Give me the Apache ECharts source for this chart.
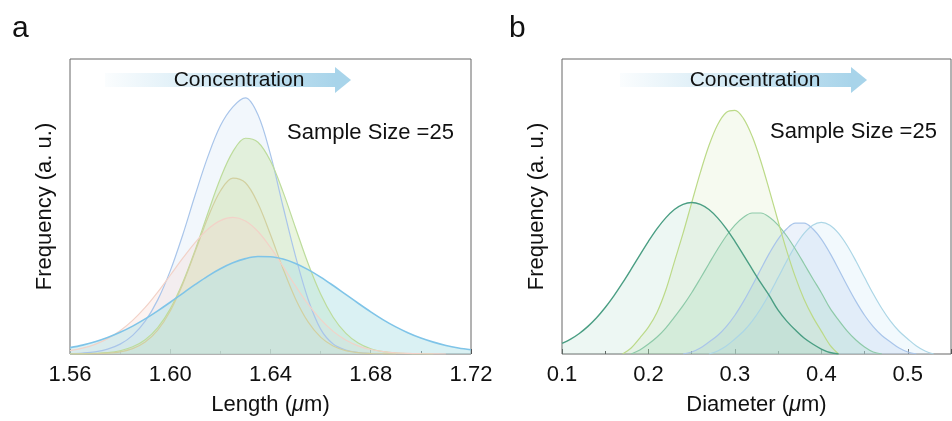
<!DOCTYPE html>
<html>
<head>
<meta charset="utf-8">
<script src="https://cdn.jsdelivr.net/npm/echarts@6/dist/echarts.min.js"></script>
<style>html,body{margin:0;padding:0;background:#fff;}#c{width:952px;height:421px;}</style>
</head>
<body>
<div id="c"></div>
<script>
// ---- Panel a: Length distributions ----
const lengthX = [1.560,1.565,1.570,1.575,1.580,1.585,1.590,1.595,1.600,1.605,1.610,1.615,1.620,1.625,1.630,1.635,1.640,1.645,1.650,1.655,1.660,1.665,1.670,1.675,1.680,1.685,1.690,1.695,1.700,1.705,1.710,1.715,1.720];
const lenBlue   = [0.4,1.0,2.2,4.9,9.9,18.7,33,54.3,83.4,119.7,160,198,229,248,257,240,200,148,98,55,25,10,4,1.5,0.5,0,null,null,null,null,null,null,null];
const lenGreen  = [0.1,0.2,0.6,1.4,3.3,7.2,14.3,26.5,45.3,71.7,104.7,141.3,176.1,203,216.5,212.5,193.6,162.7,126.5,90.8,60.2,36.9,20.9,11,5.3,2.4,1.0,0.4,0.1,0,null,null,null];
const lenKhaki  = [0,0.1,0.3,0.8,2.2,5.4,12,23.9,43.2,70.3,103.2,136.8,163.6,176.5,171.8,151,119.7,85.6,55.3,32.2,16.9,8,3.4,1.3,0.5,0.2,0,null,null,null,null,null,null];
const lenPink   = [3.4,5.9,9.7,15.4,23.3,33.7,46.7,62.1,79,96.2,112.1,125.2,133.8,137,133.5,122.9,106.9,87.9,68.2,50,34.7,22.7,14.1,8.2,4.5,2.4,1.2,0.6,0.3,0.1,0,null,null];
const lenWide   = [6.4,8.9,12.3,16.6,21.8,28,35.2,43.3,51.9,60.9,69.8,78.2,85.5,91.5,95.7,97.8,97.6,95.3,90.9,84.7,77.2,68.7,59.8,50.9,42.3,34.3,27.2,21.1,16,11.9,8.6,6.1,4.2];
const lengthTicks = [1.56,1.60,1.64,1.68,1.72];

// ---- Panel b: Diameter distributions ----
const diamX = [0.10,0.11,0.12,0.13,0.14,0.15,0.16,0.17,0.18,0.19,0.20,0.21,0.22,0.23,0.24,0.25,0.26,0.27,0.28,0.29,0.30,0.31,0.32,0.33,0.34,0.35,0.36,0.37,0.38,0.39,0.40,0.41,0.42,0.43,0.44,0.45,0.46,0.47,0.48,0.49,0.50,0.51,0.52,0.53,0.54,0.55];
const diaDark   = [10.6,14.9,20.6,27.7,36.3,46.6,58.3,71.3,85.1,99.3,113.1,125.8,136.6,145,150.2,152,150.2,145,136.6,125.8,113.1,99.3,85.1,71.3,58.3,44,33,24,16,10,5,1.5,0,null,null,null,null,null,null,null,null,null,null,null,null,null];
const diaYellow = [null,null,null,null,null,null,null,0,6,16,27,42,64,92.5,121,151.7,182,209.2,230.1,242.4,244.5,236.2,218.4,193.4,164,133.2,103.5,77.1,55,37.5,23,9,0,null,null,null,null,null,null,null,null,null,null,null,null,null];
const diaMid    = [null,null,null,null,null,null,null,null,0,4,10,17,26,37.1,48.5,61.5,75.8,90.6,105.1,118.4,129.4,137.3,141.5,141.5,137.3,129.4,118.4,105.1,90.6,75.8,61.5,46,34,23,14,7,2,0,null,null,null,null,null,null,null,null];
const diaBlue   = [null,null,null,null,null,null,null,null,null,null,null,null,null,null,0,2,6,12.1,18.6,27.5,38.9,52.8,68.5,85.1,101.2,115.3,125.7,131.3,131.3,125.7,115.3,101.2,85.1,68.5,52.8,38.9,27.5,18.6,12.1,6,2,0,null,null,null,null];
const diaLight  = [null,null,null,null,null,null,null,null,null,null,null,null,null,null,null,null,null,0,3,8,15.1,22.8,32.9,45.6,60.4,76.7,93.3,108.6,121,129.2,132,129.2,121,108.6,93.3,76.7,60.4,45.6,32.9,22.8,15.1,8,3,0,null,null];
const diamTicks = [0.1,0.2,0.3,0.4,0.5];

const FONT = 'Arial, "Liberation Sans", sans-serif';
function pairs(xs, ys){ const out=[]; xs.forEach((x,i)=>{ if(ys[i]!==null) out.push([x, ys[i]]); }); return out; }
function curve(xIdx, xs, ys, line, fill, w){
  return {type:'line', xAxisIndex:xIdx, yAxisIndex:xIdx, data:pairs(xs,ys), smooth:0.35, showSymbol:false, symbol:'none',
    lineStyle:{color:line, width:w||1.2}, areaStyle:{color:fill, origin:'start'}, silent:true};
}

const chart = echarts.init(document.getElementById('c'));
const axisCommon = {
  axisLine:{show:false}, splitLine:{show:false},
  axisTick:{show:true, inside:true, length:5, lineStyle:{color:'#555'}},
  minorTick:{show:true, splitNumber:2, length:3, lineStyle:{color:'#555'}},
  axisLabel:{color:'#111', fontSize:22, fontFamily:FONT, margin:10},
  nameLocation:'middle', nameGap:40,
  nameTextStyle:{color:'#111', fontSize:22, fontFamily:FONT,
    rich:{n:{fontSize:22, fontFamily:FONT, color:'#111'}, i:{fontSize:22, fontFamily:FONT, fontStyle:'italic', color:'#111'}}}
};
const yCommon = {
  type:'value', min:0, max:296, axisLine:{show:false}, axisTick:{show:false}, axisLabel:{show:false}, splitLine:{show:false},
  nameLocation:'middle', nameGap:14, nameRotate:90,
  nameTextStyle:{color:'#111', fontSize:22, fontFamily:FONT}
};

function arrow(x0, x1, yc){
  return [
    {type:'rect', shape:{x:x0, y:yc-7, width:x1-x0-15, height:14}, style:{fill:new echarts.graphic.LinearGradient(0,0,1,0,[{offset:0,color:'rgba(168,212,234,0.05)'},{offset:1,color:'rgba(168,212,234,1)'}])}, z:1},
    {type:'polygon', shape:{points:[[x1-16,yc-13],[x1,yc],[x1-16,yc+13]]}, style:{fill:'#a8d4ea'}, z:1}
  ];
}

chart.setOption({
  animation:false,
  backgroundColor:'#fff',
  grid:[
    {left:70, top:59, width:401, height:296, show:true, borderColor:'#666', borderWidth:1, backgroundColor:'#fff'},
    {left:562, top:59, width:389, height:296, show:true, borderColor:'#666', borderWidth:1, backgroundColor:'#fff'}
  ],
  xAxis:[
    Object.assign({}, axisCommon, {type:'value', gridIndex:0, min:lengthTicks[0], max:lengthTicks[lengthTicks.length-1], interval:0.04,
      axisLabel:Object.assign({}, axisCommon.axisLabel, {formatter:v=>v.toFixed(2)}),
      name:'{n|Length (}{i|μ}{n|m)}'}),
    Object.assign({}, axisCommon, {type:'value', gridIndex:1, min:diamTicks[0], max:0.55, interval:0.1,
      axisLabel:Object.assign({}, axisCommon.axisLabel, {formatter:v=> (Math.abs(v-0.55)<1e-6 ? '' : v.toFixed(1)), showMaxLabel:false}),
      name:'{n|Diameter (}{i|μ}{n|m)}'})
  ],
  yAxis:[
    Object.assign({}, yCommon, {gridIndex:0, name:'Frequency (a. u.)'}),
    Object.assign({}, yCommon, {gridIndex:1, name:'Frequency (a. u.)'})
  ],
  series:[
    curve(0, lengthX, lenBlue,  '#a9c5ea', 'rgba(210,225,246,0.40)'),
    curve(0, lengthX, lenGreen, '#bddc9c', 'rgba(200,228,170,0.55)'),
    curve(0, lengthX, lenKhaki, '#d2d0a0', 'rgba(215,212,160,0.20)'),
    curve(0, lengthX, lenPink,  '#f2d2c8', 'rgba(248,212,204,0.40)'),
    curve(0, lengthX, lenWide,  '#7fc4e8', 'rgba(180,226,230,0.70)', 1.6),
    curve(1, diamX, diaLight,  '#acd6e6', 'rgba(205,232,246,0.38)'),
    curve(1, diamX, diaBlue,   '#a9c5ea', 'rgba(182,208,240,0.38)'),
    curve(1, diamX, diaMid,    '#8ecaa9', 'rgba(150,210,180,0.33)'),
    curve(1, diamX, diaYellow, '#bcda88', 'rgba(205,228,175,0.27)'),
    curve(1, diamX, diaDark,   '#4a9e83', 'rgba(140,200,175,0.22)', 1.4)
  ],
  graphic:[
    {type:'text', left:12, top:14, style:{text:'a', fontSize:30, fontFamily:FONT, fill:'#111'}},
    {type:'text', left:509, top:14, style:{text:'b', fontSize:30, fontFamily:FONT, fill:'#111'}},
    ...arrow(105, 351, 80),
    ...arrow(620, 867, 80),
    {type:'text', x:239, y:80, style:{text:'Concentration', fontSize:21, fontFamily:FONT, fill:'#111', align:'center', verticalAlign:'middle'}, z:2},
    {type:'text', x:755, y:80, style:{text:'Concentration', fontSize:21, fontFamily:FONT, fill:'#111', align:'center', verticalAlign:'middle'}, z:2},
    {type:'text', x:287, y:133, style:{text:'Sample Size =25', fontSize:22, fontFamily:FONT, fill:'#111', align:'left', verticalAlign:'middle'}, z:2},
    {type:'text', x:770, y:132, style:{text:'Sample Size =25', fontSize:22, fontFamily:FONT, fill:'#111', align:'left', verticalAlign:'middle'}, z:2}
  ]
});
</script>
</body>
</html>
